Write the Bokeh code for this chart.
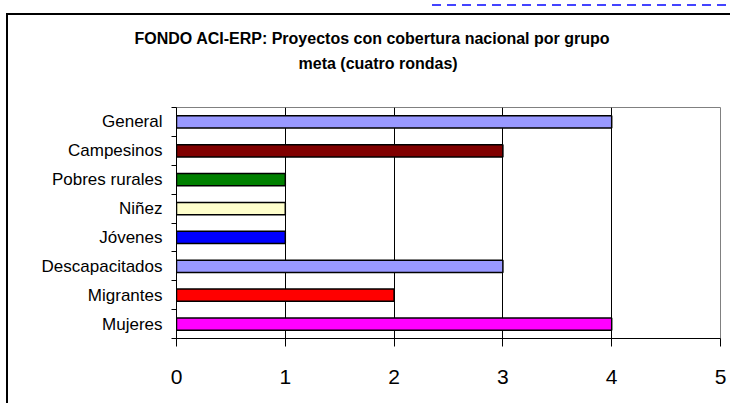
from bokeh.plotting import figure
from bokeh.models import (ColumnDataSource, Range1d, FixedTicker, Title,
                          InlineStyleSheet)
from bokeh.embed import file_html
from bokeh.resources import INLINE

# ---- data ----
categories = ["General", "Campesinos", "Pobres rurales", "Niñez", "Jóvenes",
              "Descapacitados", "Migrantes", "Mujeres"]
proyectos = [4, 3, 1, 1, 1, 3, 2, 4]
bar_colors = ["#9999FF", "#800000", "#008000", "#FFFFCC", "#0000FF",
              "#9999FF", "#FF0000", "#FF00FF"]
x_ticks = [0, 1, 2, 3, 4, 5]
title_lines = ["FONDO ACI-ERP:  Proyectos con cobertura nacional por grupo",
               "meta (cuatro rondas)"]

FONT = "Liberation Sans"

n = len(categories)
slot = [n - 0.5 - i for i in range(n)]   # first category at the top
source = ColumnDataSource(dict(y=slot, cat=categories, val=proyectos, color=bar_colors))

# chart-area frame (left and top edges) and the dashed connector line above it
frame_css = InlineStyleSheet(css="""
:host::after {
  content: ""; position: absolute; left: 6px; top: 4px; right: 0; bottom: 0;
  background:
    repeating-linear-gradient(to right, #4444FF 0 9px, transparent 9px 15px) 426px 0 / calc(100% - 426px) 2px no-repeat,
    linear-gradient(#000, #000) 0 9px / 100% 2px no-repeat,
    linear-gradient(#000, #000) 0 9px / 2px 100% no-repeat;
  pointer-events: none; z-index: 10000;
}
""")

p = figure(width=730, height=403, output_backend="svg", toolbar_location=None,
           y_range=Range1d(0, n), x_range=Range1d(0, 5),
           min_border_left=176, min_border_right=10,
           min_border_top=107, min_border_bottom=65,
           stylesheets=[frame_css])

p.hbar(y="y", right="val", left=0, height=0.42, source=source,
       fill_color="color", line_color="black", line_width=1.5)

xa = p.xaxis[0]
xa.ticker = FixedTicker(ticks=x_ticks)
xa.axis_line_color = "black"
xa.major_tick_line_color = "black"
xa.major_tick_out = 8
xa.major_tick_in = 0
xa.minor_tick_line_color = None
xa.major_label_text_font = FONT
xa.major_label_text_font_size = "21px"
xa.major_label_text_color = "black"
xa.major_label_standoff = 23

ya = p.yaxis[0]
ya.ticker = FixedTicker(ticks=slot, minor_ticks=list(range(n + 1)))
ya.major_label_overrides = {s: c for s, c in zip(slot, categories)}
ya.axis_line_color = "black"
ya.major_tick_line_color = None
ya.major_tick_out = 0
ya.major_tick_in = 0
ya.minor_tick_line_color = "black"
ya.minor_tick_out = 5
ya.minor_tick_in = 0
ya.major_label_text_font = FONT
ya.major_label_text_font_size = "17px"
ya.major_label_text_color = "black"
ya.major_label_standoff = 9

p.xgrid.grid_line_color = "black"
p.ygrid.grid_line_color = None
p.outline_line_color = "#808080"
p.background_fill_color = "white"
p.border_fill_color = "white"

# title: spacer nearest the frame, then the two lines
p.add_layout(Title(text=" ", text_font_size="17px", standoff=10), "above")
p.add_layout(Title(text=title_lines[1], align="left", offset=122, standoff=10,
                   text_font=FONT, text_font_style="bold", text_font_size="16px",
                   text_color="black"), "above")
p.add_layout(Title(text=title_lines[0], align="left", offset=-42, standoff=1.5,
                   text_font=FONT, text_font_style="bold", text_font_size="16px",
                   text_color="black"), "above")

open("out.html", "w").write(file_html(p, INLINE))
